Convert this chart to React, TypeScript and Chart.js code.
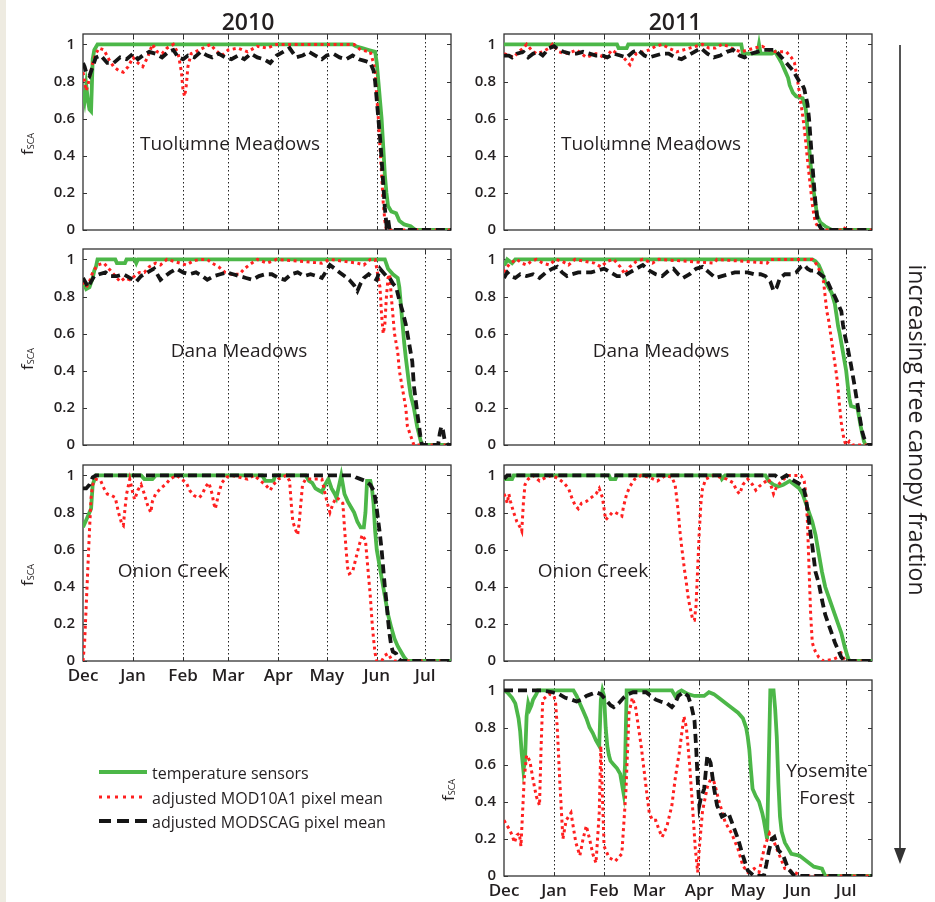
import React, { useEffect, useRef } from 'react';
import { Chart, registerables } from 'chart.js';
Chart.register(...registerables);

// ---------- axes ----------
const MONTH_DAYS = [0, 31, 62, 90, 121, 151, 182, 212]; // days since Dec 1
const MONTH_LABELS = ['Dec', 'Jan', 'Feb', 'Mar', 'Apr', 'May', 'Jun', 'Jul'];
const Y_TICKS = [0, 0.2, 0.4, 0.6, 0.8, 1];
const Y_TICK_LABELS = ['0', '0.2', '0.4', '0.6', '0.8', '1'];
const X_MAX = 228;
const Y_MAX = 1.056;

type Pt = [number, number]; // [day since Dec 1, fSCA]

// ---------- Tuolumne Meadows 2010 ----------
const TUOL10_SENSOR: Pt[] = [[0,0.75],[1,0.7],[2,0.78],[3,0.7],[4,0.65],[5,0.64],[6,0.92],[7,0.97],[9,1],[167,1],[169,0.99],[173,0.98],[177,0.97],[181,0.96],[182,0.9],[183,0.8],[184,0.7],[185,0.6],[186,0.45],[187,0.3],[188,0.2],[189,0.13],[191,0.1],[194,0.09],[196,0.05],[199,0.03],[203,0.02],[206,0],[228,0]];
const TUOL10_MOD10A1: Pt[] = [[0,0.85],[1,0.8],[2,0.75],[3,0.78],[4,0.82],[6,0.9],[8,0.95],[10,0.98],[13,0.97],[16,0.92],[19,0.88],[22,0.86],[25,0.85],[28,0.88],[31,0.93],[34,0.9],[37,0.88],[40,0.93],[43,1],[46,0.96],[49,0.95],[52,0.98],[56,1],[59,0.95],[61,0.85],[62,0.75],[63,0.72],[64,0.78],[65,0.88],[67,0.95],[72,0.97],[79,1],[82,0.97],[86,0.94],[90,0.97],[96,0.98],[102,0.96],[108,0.99],[114,0.98],[120,1],[168,1],[172,0.97],[178,0.96],[180,0.9],[181,0.85],[182,0.72],[183,0.6],[184,0.45],[185,0.3],[186,0.15],[187,0.05],[188,0],[228,0]];
const TUOL10_MODSCAG: Pt[] = [[0,0.9],[1,0.88],[2,0.85],[4,0.83],[6,0.88],[8,0.93],[11,0.94],[15,0.9],[19,0.9],[23,0.93],[27,0.92],[31,0.95],[34,0.92],[37,0.94],[41,0.96],[45,0.95],[49,0.93],[53,0.96],[56,0.97],[59,0.93],[62,0.92],[65,0.94],[69,0.93],[73,0.96],[77,0.94],[80,0.93],[84,0.95],[88,0.93],[92,0.92],[96,0.94],[100,0.92],[104,0.95],[108,0.93],[112,0.92],[116,0.9],[120,0.94],[124,0.96],[128,0.98],[132,0.93],[136,0.94],[140,0.96],[144,0.94],[148,0.92],[151,0.94],[155,0.95],[159,0.93],[163,0.92],[167,0.94],[171,0.92],[175,0.91],[178,0.9],[180,0.86],[181,0.8],[182,0.7],[183,0.6],[184,0.5],[185,0.38],[186,0.25],[187,0.12],[188,0.03],[189,0.06],[190,0],[228,0]];

// ---------- Tuolumne Meadows 2011 ----------
const TUOL11_SENSOR: Pt[] = [[0,1],[70,1],[71,0.98],[76,0.98],[77,1],[147,1],[148,0.95],[157,0.95],[158,1],[159,0.95],[166,0.95],[168,0.96],[170,0.93],[172,0.9],[174,0.86],[176,0.82],[177,0.78],[179,0.74],[181,0.72],[185,0.71],[187,0.65],[188,0.55],[189,0.45],[190,0.35],[191,0.27],[192,0.2],[193,0.14],[194,0.08],[196,0.04],[199,0.02],[203,0],[228,0]];
const TUOL11_MOD10A1: Pt[] = [[0,0.95],[3,0.94],[6,0.93],[9,0.96],[12,0.98],[14,1],[17,0.97],[20,0.95],[24,0.96],[28,0.98],[30,1],[34,0.96],[38,0.95],[42,0.96],[45,0.97],[48,0.95],[51,0.93],[54,0.94],[57,0.95],[60,0.94],[62,0.92],[65,0.95],[67,0.97],[70,0.95],[74,0.93],[76,0.91],[78,0.89],[80,0.93],[82,0.95],[86,0.96],[90,0.97],[94,0.99],[98,1],[102,0.98],[107,0.96],[111,0.97],[115,0.98],[119,0.99],[123,1],[127,0.98],[131,0.98],[135,1],[139,0.99],[143,0.97],[147,0.96],[151,0.97],[155,0.98],[160,0.99],[164,0.97],[168,0.96],[172,0.96],[175,0.96],[178,0.93],[180,0.9],[181,0.85],[182,0.8],[183,0.74],[184,0.68],[185,0.62],[186,0.55],[187,0.47],[188,0.38],[189,0.3],[190,0.22],[191,0.14],[192,0.08],[193,0.04],[195,0.01],[197,0],[210,0],[211,0.01],[213,0],[228,0]];
const TUOL11_MODSCAG: Pt[] = [[0,0.94],[3,0.94],[5,0.93],[8,0.95],[12,0.96],[15,0.93],[18,0.95],[21,0.96],[24,0.94],[28,0.98],[31,0.99],[34,0.97],[37,0.96],[41,0.95],[45,0.95],[49,0.96],[53,0.95],[57,0.94],[61,0.94],[64,0.93],[68,0.95],[72,0.94],[76,0.93],[80,0.96],[83,0.97],[87,0.94],[90,0.93],[94,0.94],[98,0.95],[102,0.95],[106,0.93],[110,0.92],[114,0.94],[118,0.96],[122,0.98],[126,0.95],[130,0.93],[134,0.94],[138,0.96],[142,0.97],[146,0.94],[149,0.93],[153,0.95],[157,0.96],[161,0.97],[165,0.97],[168,0.97],[170,0.95],[172,0.93],[175,0.9],[177,0.88],[179,0.86],[181,0.83],[183,0.8],[185,0.78],[186,0.76],[187,0.72],[188,0.68],[189,0.6],[190,0.48],[191,0.36],[192,0.25],[193,0.14],[194,0.07],[195,0.03],[197,0],[228,0]];

// ---------- Dana Meadows 2010 ----------
const DANA10_SENSOR: Pt[] = [[0,0.88],[2,0.84],[4,0.85],[6,0.9],[7,0.94],[8,0.96],[9,1],[20,1],[21,0.98],[26,0.98],[27,1],[32,1],[33,0.98],[34,1],[187,1],[189,0.95],[192,0.92],[195,0.9],[196,0.85],[197,0.75],[198,0.65],[199,0.55],[200,0.47],[201,0.4],[202,0.33],[203,0.27],[205,0.2],[207,0.1],[209,0.03],[210,0],[228,0]];
const DANA10_MOD10A1: Pt[] = [[0,0.88],[2,0.85],[4,0.88],[6,0.93],[9,0.97],[13,0.98],[16,0.95],[19,0.92],[23,0.88],[26,0.9],[29,0.89],[32,0.91],[35,0.93],[38,0.93],[41,0.96],[45,0.98],[48,0.97],[52,1],[56,0.99],[60,0.98],[64,0.97],[68,0.99],[72,1],[77,1],[80,0.98],[84,0.96],[88,0.93],[92,0.92],[97,0.92],[100,0.95],[103,0.97],[108,1],[114,0.98],[120,1],[148,0.98],[153,1],[170,0.98],[174,0.97],[178,1],[181,1],[182,0.95],[184,0.85],[185,0.7],[186,0.6],[187,0.65],[188,0.8],[189,0.9],[190,0.92],[191,0.8],[192,0.7],[193,0.6],[194,0.55],[195,0.5],[196,0.4],[198,0.3],[200,0.2],[201,0.1],[203,0.05],[205,0],[228,0]];
const DANA10_MODSCAG: Pt[] = [[0,0.9],[2,0.87],[3,0.85],[5,0.88],[7,0.91],[10,0.92],[14,0.93],[17,0.91],[21,0.91],[25,0.92],[29,0.9],[33,0.88],[36,0.91],[40,0.93],[44,0.95],[48,0.89],[51,0.91],[54,0.93],[58,0.95],[62,0.93],[66,0.92],[70,0.93],[74,0.91],[77,0.89],[81,0.91],[85,0.92],[89,0.93],[93,0.92],[97,0.91],[101,0.9],[105,0.89],[109,0.91],[113,0.92],[117,0.92],[121,0.9],[125,0.89],[129,0.92],[133,0.93],[137,0.91],[141,0.92],[145,0.91],[148,0.9],[151,0.94],[153,0.97],[156,0.95],[159,0.93],[162,0.91],[165,0.89],[168,0.86],[170,0.83],[172,0.87],[174,0.9],[177,0.92],[180,0.9],[182,0.89],[184,0.95],[186,0.93],[188,0.91],[190,0.9],[192,0.87],[194,0.85],[196,0.78],[198,0.72],[200,0.65],[202,0.55],[204,0.45],[205,0.32],[207,0.18],[209,0.05],[210,0],[220,0],[221,0.06],[222,0.1],[223,0.08],[224,0.03],[226,0],[228,0]];

// ---------- Dana Meadows 2011 ----------
const DANA11_SENSOR: Pt[] = [[0,0.97],[1,0.98],[2,1],[5,0.98],[7,1],[191,1],[193,0.99],[195,0.97],[197,0.93],[199,0.88],[201,0.85],[203,0.82],[205,0.76],[206,0.7],[207,0.64],[208,0.6],[209,0.55],[210,0.5],[211,0.45],[212,0.4],[213,0.32],[214,0.25],[215,0.21],[219,0.2],[220,0.15],[221,0.1],[222,0.06],[223,0.02],[224,0],[228,0]];
const DANA11_MOD10A1: Pt[] = [[0,0.93],[2,0.96],[4,0.98],[8,1],[11,0.98],[14,0.97],[17,0.99],[20,1],[24,0.98],[28,0.97],[32,1],[36,0.99],[40,0.97],[44,1],[50,0.99],[56,0.98],[60,0.96],[64,0.99],[68,1],[72,0.96],[75,0.92],[78,0.96],[82,0.99],[86,1],[92,0.98],[96,1],[130,0.98],[132,1],[163,0.98],[165,1],[191,1],[194,0.97],[196,0.93],[198,0.88],[199,0.8],[200,0.72],[201,0.68],[202,0.62],[203,0.56],[204,0.5],[205,0.44],[206,0.38],[207,0.3],[208,0.2],[209,0.12],[210,0.06],[211,0.02],[212,0],[214,0.02],[216,0],[228,0]];
const DANA11_MODSCAG: Pt[] = [[0,0.9],[2,0.93],[4,0.91],[7,0.9],[10,0.92],[14,0.91],[18,0.92],[22,0.9],[26,0.93],[30,0.95],[33,0.96],[36,0.93],[39,0.91],[42,0.92],[46,0.93],[50,0.93],[54,0.93],[58,0.94],[62,0.95],[66,0.93],[70,0.91],[74,0.91],[78,0.93],[82,0.95],[86,0.97],[90,0.94],[94,0.92],[98,0.91],[102,0.94],[105,0.95],[108,0.92],[111,0.9],[115,0.92],[119,0.95],[123,0.96],[127,0.93],[131,0.9],[135,0.91],[139,0.92],[143,0.93],[147,0.93],[151,0.93],[155,0.92],[159,0.92],[162,0.91],[165,0.88],[167,0.83],[169,0.85],[171,0.9],[174,0.92],[178,0.92],[181,0.93],[184,0.96],[186,0.97],[188,0.95],[190,0.94],[193,0.94],[196,0.92],[199,0.9],[201,0.87],[203,0.83],[205,0.8],[207,0.76],[209,0.72],[210,0.65],[211,0.6],[213,0.52],[215,0.43],[217,0.33],[219,0.22],[221,0.12],[222,0.07],[223,0.04],[225,0],[228,0]];

// ---------- Onion Creek 2010 ----------
const ONION10_SENSOR: Pt[] = [[0,0.72],[2,0.76],[3,0.78],[5,0.82],[6,0.95],[8,1],[36,1],[38,0.98],[43,0.98],[45,1],[111,1],[113,0.97],[118,0.97],[119,1],[138,1],[140,0.97],[142,0.96],[144,0.93],[146,0.92],[148,0.91],[150,0.95],[152,0.98],[154,0.93],[156,0.9],[157,0.88],[158,0.92],[159,0.96],[160,1],[161,0.95],[162,0.9],[164,0.86],[166,0.83],[168,0.8],[170,0.75],[172,0.72],[174,0.72],[175,0.8],[176,0.97],[178,0.97],[179,0.93],[180,0.85],[181,0.7],[182,0.6],[183,0.55],[185,0.45],[187,0.35],[189,0.25],[191,0.18],[193,0.12],[195,0.08],[197,0.05],[199,0.02],[201,0],[228,0]];
const ONION10_MOD10A1: Pt[] = [[0,0],[1,0.1],[2,0.3],[3,0.5],[4,0.7],[5,0.88],[6,0.95],[8,0.98],[11,0.97],[13,0.93],[15,0.9],[18,0.89],[20,0.88],[22,0.8],[24,0.74],[25,0.73],[26,0.82],[27,0.9],[29,0.98],[31,0.9],[32,0.87],[34,0.92],[36,0.95],[38,0.9],[40,0.84],[42,0.8],[43,0.86],[45,0.9],[48,0.93],[51,0.95],[54,0.98],[58,1],[61,0.98],[64,0.96],[66,0.92],[69,0.89],[72,0.88],[74,0.9],[76,0.94],[78,0.96],[80,0.9],[81,0.85],[82,0.82],[84,0.9],[86,0.96],[89,0.99],[92,1],[97,0.99],[102,0.98],[106,1],[110,0.97],[113,0.95],[116,0.92],[118,0.95],[121,0.98],[126,1],[128,0.97],[129,0.85],[130,0.75],[132,0.7],[133,0.68],[134,0.75],[135,0.85],[136,0.95],[138,0.98],[148,0.98],[150,0.9],[152,0.83],[153,0.8],[155,0.85],[157,0.88],[159,0.87],[161,0.85],[162,0.72],[163,0.6],[164,0.5],[165,0.47],[167,0.48],[169,0.55],[171,0.62],[173,0.68],[175,0.65],[176,0.55],[177,0.45],[178,0.35],[179,0.22],[180,0.12],[181,0.04],[182,0],[185,0],[187,0.03],[189,0.04],[191,0.01],[193,0],[228,0]];
const ONION10_MODSCAG: Pt[] = [[0,0.93],[2,0.93],[4,0.95],[6,0.99],[8,1],[167,1],[169,0.99],[172,0.98],[175,0.97],[178,0.95],[180,0.92],[181,0.88],[182,0.82],[183,0.75],[184,0.68],[185,0.6],[186,0.5],[187,0.4],[188,0.32],[189,0.22],[190,0.14],[191,0.08],[192,0.05],[194,0.04],[195,0.02],[197,0],[228,0]];

// ---------- Onion Creek 2011 ----------
const ONION11_SENSOR: Pt[] = [[0,0.98],[5,0.98],[6,1],[65,1],[66,0.98],[69,0.98],[70,1],[134,1],[135,0.98],[137,1],[162,1],[164,0.97],[167,0.95],[170,0.94],[173,0.95],[175,0.96],[177,0.97],[180,0.95],[183,0.93],[185,0.9],[187,0.85],[189,0.8],[191,0.75],[193,0.68],[195,0.58],[197,0.48],[199,0.4],[201,0.35],[203,0.3],[205,0.25],[207,0.2],[209,0.15],[211,0.08],[213,0.02],[214,0],[228,0]];
const ONION11_MOD10A1: Pt[] = [[0,0.9],[1,0.88],[2,0.85],[3,0.9],[4,0.86],[6,0.8],[8,0.75],[10,0.72],[11,0.7],[12,0.85],[13,0.95],[15,0.98],[18,1],[22,0.97],[26,0.99],[30,1],[34,0.98],[37,0.96],[40,0.93],[42,0.88],[44,0.84],[46,0.82],[48,0.85],[51,0.86],[54,0.88],[57,0.9],[59,0.93],[61,0.88],[62,0.82],[63,0.76],[65,0.78],[67,0.8],[69,0.8],[71,0.79],[73,0.78],[74,0.83],[76,0.9],[78,0.94],[81,0.98],[85,1],[90,0.99],[95,0.97],[100,1],[104,0.99],[106,0.95],[107,0.88],[108,0.8],[109,0.7],[110,0.62],[111,0.55],[112,0.48],[113,0.42],[114,0.35],[115,0.3],[116,0.26],[117,0.22],[118,0.22],[119,0.3],[120,0.5],[121,0.7],[122,0.85],[123,0.93],[125,0.98],[130,1],[138,0.98],[142,0.96],[144,0.92],[146,0.9],[148,0.95],[151,0.98],[154,0.95],[156,0.92],[158,0.94],[161,0.96],[164,0.98],[166,0.93],[167,0.9],[169,0.94],[172,0.97],[176,1],[184,1],[186,0.97],[187,0.9],[188,0.75],[189,0.5],[190,0.25],[191,0.1],[192,0.07],[193,0.05],[195,0.02],[198,0],[204,0.01],[207,0.02],[209,0.04],[210,0.02],[212,0],[228,0]];
const ONION11_MODSCAG: Pt[] = [[0,0.98],[2,1],[168,1],[171,0.98],[175,1],[178,0.98],[182,0.96],[184,0.95],[186,0.92],[187,0.88],[188,0.82],[189,0.75],[190,0.68],[191,0.62],[192,0.55],[193,0.48],[195,0.42],[197,0.33],[199,0.25],[201,0.2],[203,0.15],[205,0.1],[207,0.06],[209,0.02],[211,0],[228,0]];

// ---------- Yosemite Forest 2011 ----------
const YOSE11_SENSOR: Pt[] = [[0,1],[2,0.99],[5,0.96],[7,0.93],[9,0.85],[10,0.78],[11,0.66],[12,0.57],[13,0.62],[14,0.86],[15,0.93],[16,0.9],[17,0.92],[18,0.95],[20,0.98],[21,1],[43,1],[45,0.97],[47,0.93],[49,0.89],[51,0.85],[53,0.8],[55,0.77],[57,0.73],[59,0.7],[60,0.95],[61,1],[62,0.97],[63,0.8],[64,0.7],[65,0.65],[66,0.62],[68,0.6],[70,0.58],[72,0.55],[73,0.5],[74,0.45],[75,0.6],[76,1],[104,1],[106,0.97],[108,0.99],[110,1],[114,0.98],[118,0.97],[124,0.97],[127,0.99],[130,0.98],[133,0.96],[136,0.94],[139,0.92],[142,0.9],[145,0.88],[148,0.85],[150,0.8],[151,0.75],[152,0.68],[153,0.57],[154,0.47],[156,0.43],[158,0.4],[160,0.34],[161,0.3],[162,0.25],[163,0.2],[164,0.6],[165,1],[167,1],[168,0.9],[169,0.75],[170,0.5],[171,0.32],[172,0.24],[174,0.18],[176,0.15],[178,0.12],[183,0.11],[186,0.09],[189,0.07],[192,0.05],[197,0.04],[199,0],[228,0]];
const YOSE11_MOD10A1: Pt[] = [[0,0.3],[2,0.27],[3.5,0.25],[5,0.22],[6.5,0.18],[8,0.22],[9.5,0.23],[10.5,0.16],[11.5,0.34],[12.5,0.52],[14,0.65],[16,0.62],[18,0.52],[20,0.43],[22,0.38],[23,0.7],[24,0.95],[28,0.98],[31,0.97],[32,0.93],[33,0.8],[34.5,0.52],[36.5,0.2],[38.5,0.3],[41.5,0.34],[44.5,0.18],[47,0.11],[49,0.2],[51,0.27],[53,0.2],[55,0.12],[57,0.07],[59,0.34],[60,0.7],[61,0.43],[62,0.16],[65,0.1],[69,0.08],[73,0.12],[75.5,0.45],[77.5,0.88],[79.5,0.96],[81.5,0.91],[85,0.7],[88,0.48],[90,0.34],[92,0.3],[94,0.3],[96,0.25],[98,0.21],[101,0.27],[104,0.38],[106,0.52],[108.5,0.66],[111.5,0.86],[113,0.8],[115,0.6],[117,0.35],[118.5,0.15],[120,0.02],[121,0.15],[123,0.35],[126,0.48],[129,0.54],[131,0.48],[133,0.41],[137,0.29],[141,0.23],[145,0.145],[148,0.055],[151,0.02],[155,0.04],[158,0.02],[161.5,0.16],[164.5,0.23],[167.5,0.18],[170,0.125],[174,0.04],[180,0.02],[184,0],[228,0]];
const YOSE11_MODSCAG: Pt[] = [[0,1],[23,1],[30,0.99],[34,0.98],[38,0.96],[42,0.95],[45,0.94],[48,0.95],[51,0.97],[54,0.98],[57,0.99],[60,0.98],[63,0.95],[66,0.92],[68,0.91],[71,0.93],[74,0.96],[77,0.98],[80,0.99],[88,0.99],[91,0.97],[94,0.95],[97,0.94],[101,0.93],[104,0.91],[106,0.93],[108,0.97],[111,0.99],[114,0.97],[116,0.92],[118,0.84],[119,0.7],[120,0.52],[121,0.38],[122,0.42],[124,0.47],[126,0.65],[128,0.61],[130,0.48],[132,0.38],[135,0.32],[137,0.33],[139,0.34],[142,0.27],[145,0.2],[148,0.11],[151,0.03],[155,0],[161,0],[162.5,0.06],[164,0.13],[166,0.2],[167.5,0.21],[170,0.14],[173,0.11],[176,0.04],[180,0],[228,0]];

// ---------- styles ----------
const GREEN = '#4cb748';
const RED = '#ff2020';
const BLACK = '#151515';
const INK = '#231f20';
const FONT = "'Open Sans', 'DejaVu Sans', sans-serif";

const PLOT_W = 368;
const PLOT_H = 196;
const COL_X = [83, 504];
const ROW_Y = [34, 249, 465, 680];
const YW = 48;
const PADT = 24;
const PADR = 22;

type PanelSpec = {
  col: number; row: number; showX: boolean; yLabel: boolean;
  sensor: Pt[]; mod10: Pt[]; modscag: Pt[];
  names: { text: string; x: number; y: number }[];
};

const PANELS: PanelSpec[] = [
  { col: 0, row: 0, showX: false, yLabel: true, sensor: TUOL10_SENSOR, mod10: TUOL10_MOD10A1, modscag: TUOL10_MODSCAG, names: [{ text: 'Tuolumne Meadows', x: 230, y: 143 }] },
  { col: 1, row: 0, showX: false, yLabel: false, sensor: TUOL11_SENSOR, mod10: TUOL11_MOD10A1, modscag: TUOL11_MODSCAG, names: [{ text: 'Tuolumne Meadows', x: 651, y: 143 }] },
  { col: 0, row: 1, showX: false, yLabel: true, sensor: DANA10_SENSOR, mod10: DANA10_MOD10A1, modscag: DANA10_MODSCAG, names: [{ text: 'Dana Meadows', x: 239, y: 350 }] },
  { col: 1, row: 1, showX: false, yLabel: false, sensor: DANA11_SENSOR, mod10: DANA11_MOD10A1, modscag: DANA11_MODSCAG, names: [{ text: 'Dana Meadows', x: 661, y: 350 }] },
  { col: 0, row: 2, showX: true, yLabel: true, sensor: ONION10_SENSOR, mod10: ONION10_MOD10A1, modscag: ONION10_MODSCAG, names: [{ text: 'Onion Creek', x: 173, y: 570 }] },
  { col: 1, row: 2, showX: false, yLabel: false, sensor: ONION11_SENSOR, mod10: ONION11_MOD10A1, modscag: ONION11_MODSCAG, names: [{ text: 'Onion Creek', x: 593, y: 570 }] },
  { col: 1, row: 3, showX: true, yLabel: true, sensor: YOSE11_SENSOR, mod10: YOSE11_MOD10A1, modscag: YOSE11_MODSCAG, names: [{ text: 'Yosemite', x: 827, y: 770 }, { text: 'Forest', x: 827, y: 797 }] },
];

const framePlugin = {
  id: 'frame',
  beforeDatasetsDraw(chart: any) {
    const { ctx, chartArea: a, scales } = chart;
    const x = scales.x;
    const y = scales.y;
    ctx.save();
    // dotted month grid
    ctx.strokeStyle = '#222';
    ctx.lineWidth = 1;
    ctx.setLineDash([1.5, 2.5]);
    for (const d of MONTH_DAYS.slice(1)) {
      const px = Math.round(x.getPixelForValue(d)) + 0.5;
      ctx.beginPath();
      ctx.moveTo(px, a.top);
      ctx.lineTo(px, a.bottom);
      ctx.stroke();
    }
    ctx.setLineDash([]);
    // box
    ctx.strokeStyle = '#333';
    ctx.lineWidth = 1.3;
    ctx.strokeRect(a.left, a.top, a.right - a.left, a.bottom - a.top);
    // inward ticks
    ctx.lineWidth = 1;
    const tl = 4;
    ctx.beginPath();
    for (const d of MONTH_DAYS.slice(1)) {
      const px = Math.round(x.getPixelForValue(d)) + 0.5;
      ctx.moveTo(px, a.bottom); ctx.lineTo(px, a.bottom - tl);
      ctx.moveTo(px, a.top); ctx.lineTo(px, a.top + tl);
    }
    for (const v of Y_TICKS) {
      const py = Math.round(y.getPixelForValue(v)) + 0.5;
      ctx.moveTo(a.left, py); ctx.lineTo(a.left + tl, py);
      ctx.moveTo(a.right, py); ctx.lineTo(a.right - tl, py);
    }
    ctx.stroke();
    ctx.restore();
  },
};

function Panel({ spec }: { spec: PanelSpec }) {
  const ref = useRef<HTMLCanvasElement>(null);
  const xh = spec.showX ? 30 : 24;
  const w = YW + PLOT_W + PADR;
  const h = PADT + PLOT_H + xh;
  useEffect(() => {
    const toXY = (arr: Pt[]) => arr.map(([d, v]) => ({ x: d, y: v }));
    const chart = new Chart(ref.current as HTMLCanvasElement, {
      type: 'line',
      data: {
        datasets: [
          { label: 'temperature sensors', data: toXY(spec.sensor), borderColor: GREEN, borderWidth: 3.8, pointRadius: 0, fill: false, tension: 0, order: 2 },
          { label: 'adjusted MOD10A1 pixel mean', data: toXY(spec.mod10), borderColor: RED, borderWidth: 3, borderDash: [3, 3.5], pointRadius: 0, fill: false, tension: 0, order: 1 },
          { label: 'adjusted MODSCAG pixel mean', data: toXY(spec.modscag), borderColor: BLACK, borderWidth: 3.8, borderDash: [9, 5], pointRadius: 0, fill: false, tension: 0, order: 0 },
        ],
      } as any,
      options: {
        animation: false,
        responsive: false,
        maintainAspectRatio: false,
        devicePixelRatio: 1,
        events: [],
        layout: { padding: { left: 0, right: PADR, top: PADT, bottom: 0 } },
        plugins: { legend: { display: false }, tooltip: { enabled: false } },
        scales: {
          x: {
            type: 'linear', min: 0, max: X_MAX,
            afterBuildTicks: (s: any) => { s.ticks = MONTH_DAYS.map((v) => ({ value: v })); },
            afterFit: (s: any) => { s.height = xh; },
            grid: { display: false, drawTicks: false },
            border: { display: false },
            ticks: {
              display: spec.showX, autoSkip: false, maxRotation: 0, minRotation: 0, padding: 5,
              color: INK, font: { family: FONT, size: 17, weight: '600' },
              callback: (_v: any, i: number) => MONTH_LABELS[i],
            },
          },
          y: {
            type: 'linear', min: 0, max: Y_MAX,
            afterBuildTicks: (s: any) => { s.ticks = Y_TICKS.map((v) => ({ value: v })); },
            afterFit: (s: any) => { s.width = YW; },
            grid: { display: false, drawTicks: false },
            border: { display: false },
            ticks: {
              padding: 8, color: INK, font: { family: FONT, size: 15, weight: '600' },
              callback: (_v: any, i: number) => Y_TICK_LABELS[i],
            },
          },
        },
      } as any,
      plugins: [framePlugin],
    });
    return () => chart.destroy();
  }, []);
  return (
    <canvas
      ref={ref}
      width={w}
      height={h}
      style={{ position: 'absolute', left: COL_X[spec.col] - YW, top: ROW_Y[spec.row] - PADT, width: w, height: h }}
    />
  );
}

const LEGEND = [
  { text: 'temperature sensors', color: GREEN, width: 3.8, dash: undefined as string | undefined, y: 772 },
  { text: 'adjusted MOD10A1 pixel mean', color: RED, width: 3, dash: '3 5', y: 797 },
  { text: 'adjusted MODSCAG pixel mean', color: BLACK, width: 3.8, dash: '12 6', y: 821 },
];

export default function App() {
  return (
    <div style={{ position: 'absolute', left: 0, top: 0, width: 935, height: 902, background: '#ffffff', overflow: 'hidden' }}>
      <div style={{ position: 'absolute', left: 0, top: 0, width: 6, height: 902, background: '#eeebe1' }} />
      {PANELS.map((p, i) => <Panel key={i} spec={p} />)}
      <svg width={935} height={902} style={{ position: 'absolute', left: 0, top: 0, pointerEvents: 'none' }} fontFamily={FONT}>
        <text x={248} y={21} textAnchor="middle" dominantBaseline="central" fontSize={23} fontWeight={600} fill={INK}>2010</text>
        <text x={675} y={21} textAnchor="middle" dominantBaseline="central" fontSize={23} fontWeight={600} fill={INK}>2011</text>
        {PANELS.map((p, i) => (
          <g key={i}>
            {p.names.map((n, j) => (
              <text key={j} x={n.x} y={n.y} textAnchor="middle" dominantBaseline="central" fontSize={19} fill={INK}>{n.text}</text>
            ))}
            {p.yLabel && (
              <text transform={`translate(${COL_X[p.col] - 57},${ROW_Y[p.row] + 110}) rotate(-90)`} textAnchor="middle" dominantBaseline="central" fill={INK}>
                <tspan fontSize={17}>f</tspan>
                <tspan fontSize={9} dy={4}>SCA</tspan>
              </text>
            )}
          </g>
        ))}
        {LEGEND.map((l, i) => (
          <g key={i}>
            <line x1={99} x2={147} y1={l.y} y2={l.y} stroke={l.color} strokeWidth={l.width} strokeDasharray={l.dash} />
            <text x={152} y={l.y + 1} dominantBaseline="central" fontSize={16} fill={INK}>{l.text}</text>
          </g>
        ))}
        <line x1={900} x2={900} y1={45} y2={850} stroke="#555" strokeWidth={2} />
        <polygon points="894,848 906,848 900,864" fill="#333" />
        <text transform="translate(918,430) rotate(90)" textAnchor="middle" dominantBaseline="central" fontSize={23} fill={INK}>increasing tree canopy fraction</text>
      </svg>
    </div>
  );
}
